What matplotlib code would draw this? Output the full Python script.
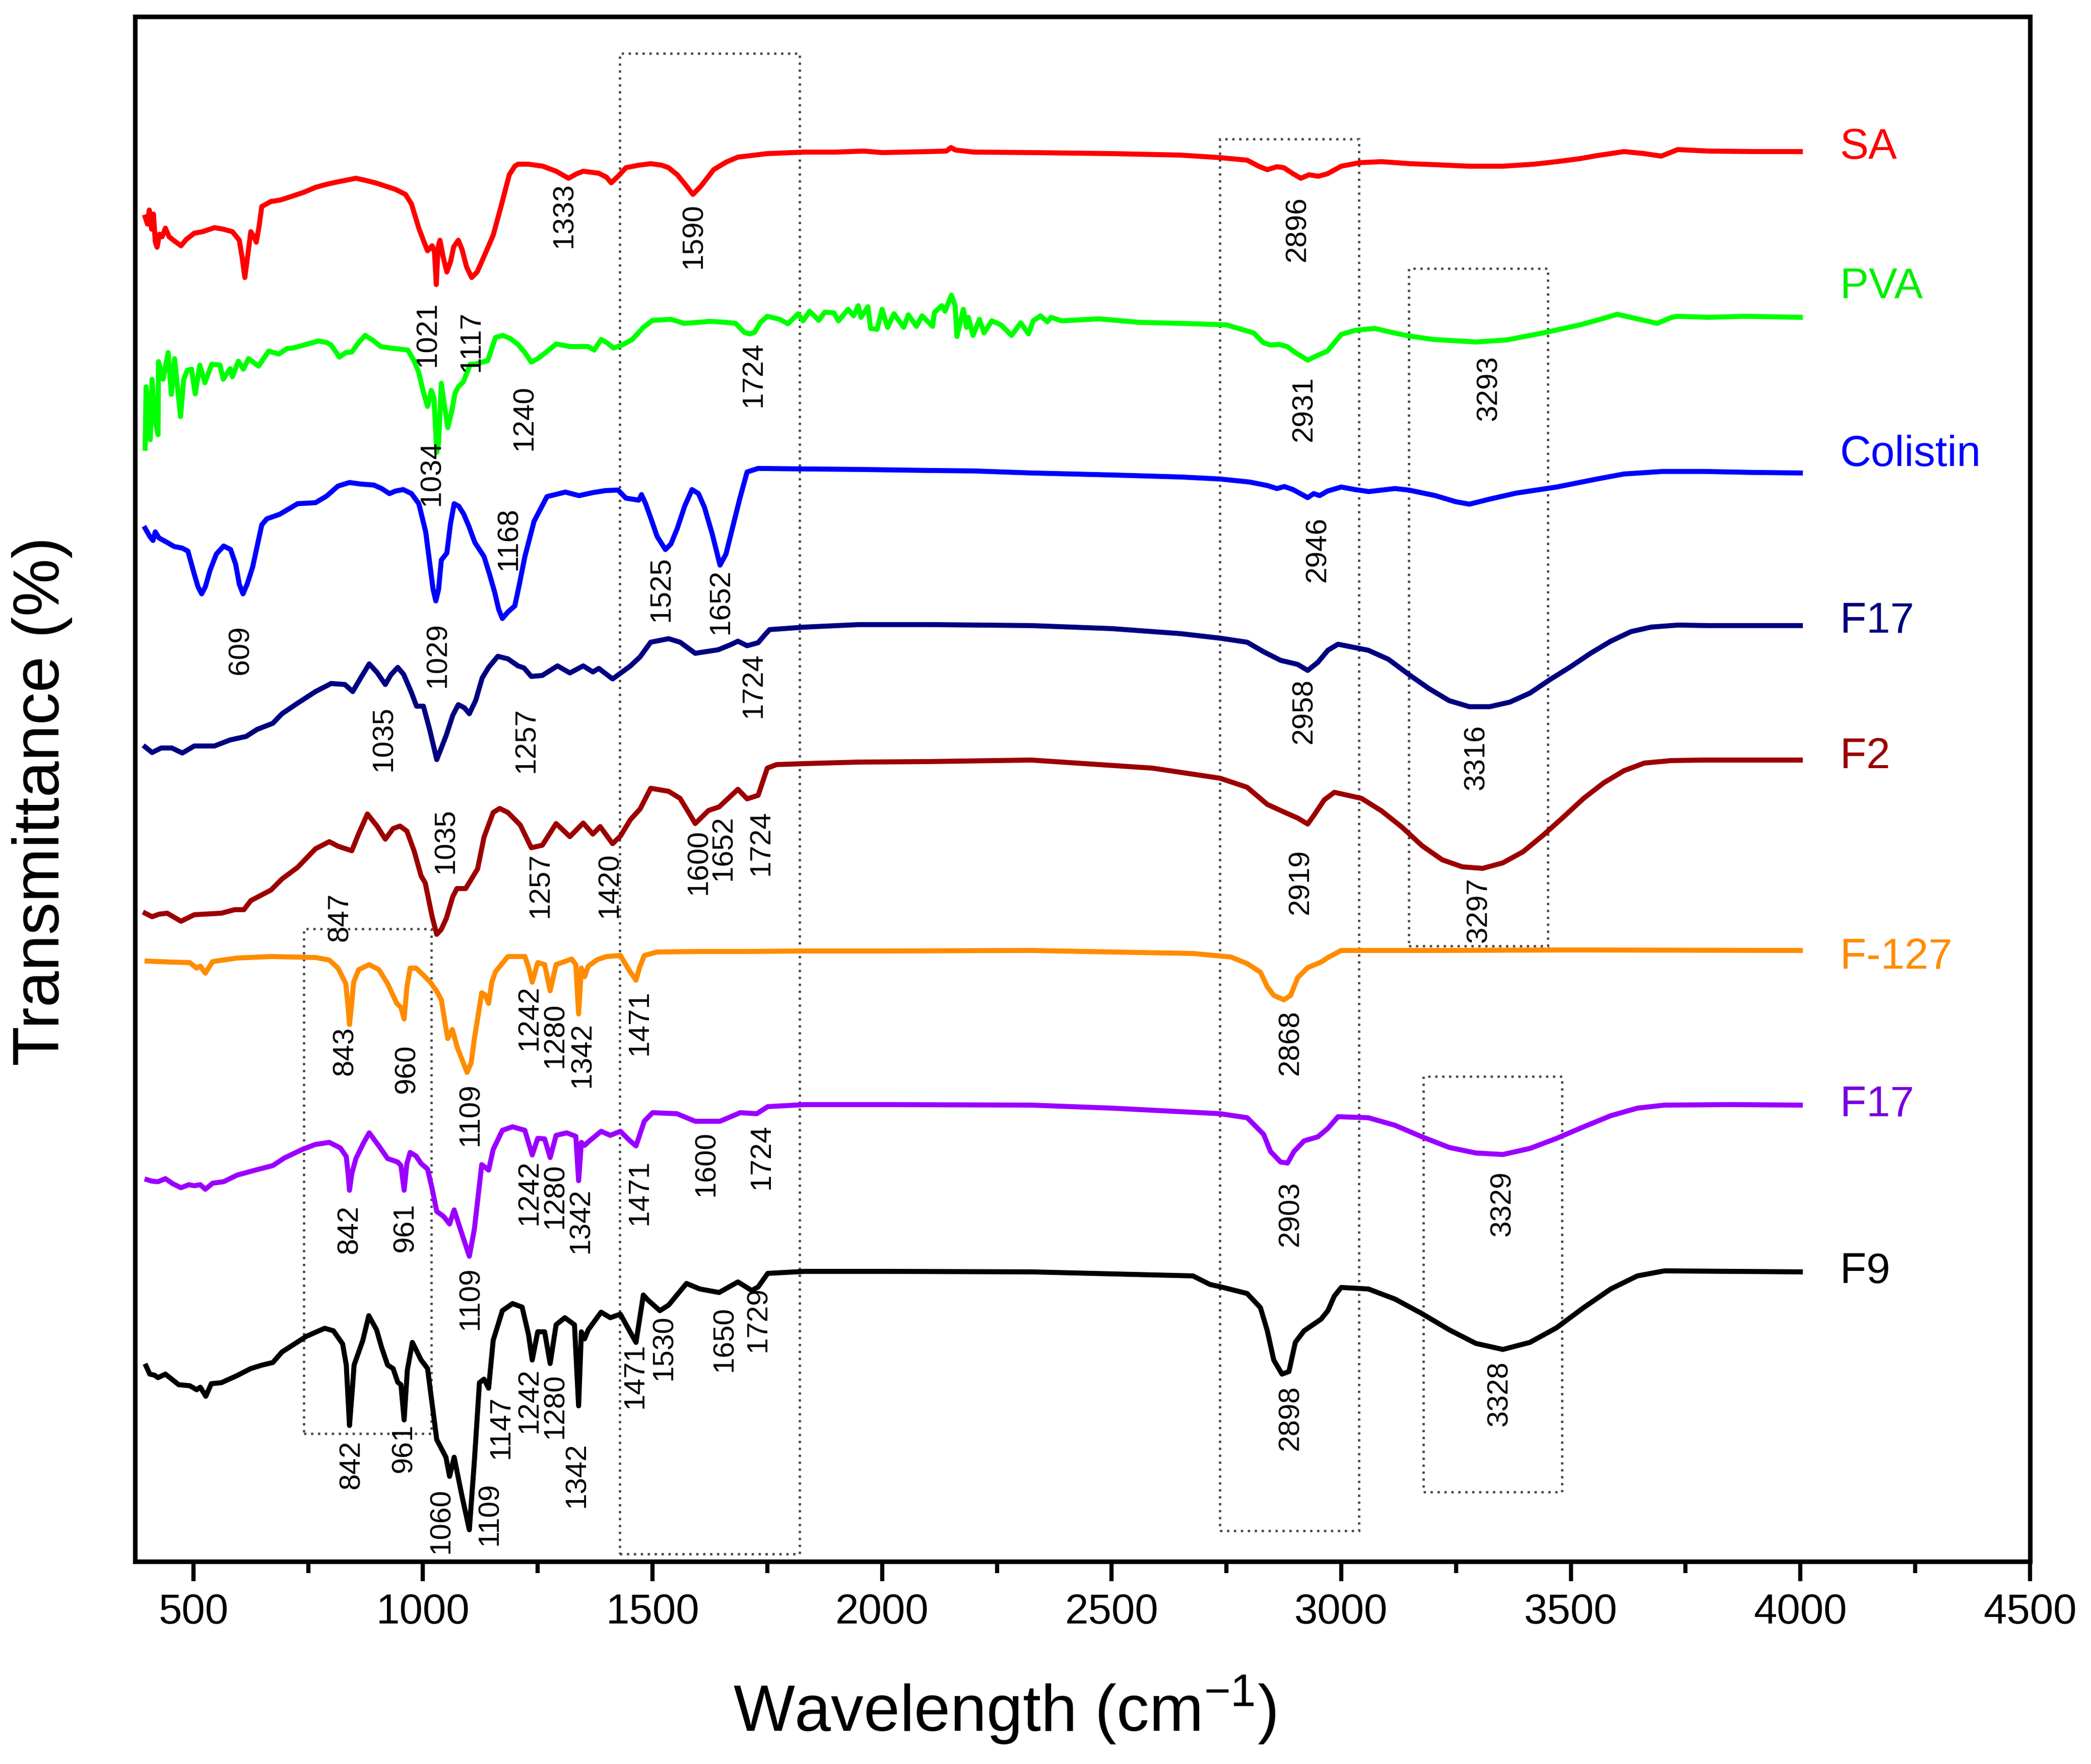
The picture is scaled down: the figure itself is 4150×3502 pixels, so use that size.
import matplotlib
matplotlib.use("Agg")
import matplotlib.pyplot as plt
from matplotlib.ticker import MultipleLocator
from matplotlib.patches import Rectangle

plt.rcParams['font.family'] = ['Liberation Sans', 'DejaVu Sans']
plt.rcParams['mathtext.fontset'] = 'custom'
plt.rcParams['mathtext.rm'] = 'Liberation Sans'
plt.rcParams['mathtext.it'] = 'Liberation Sans:italic'
plt.rcParams['mathtext.default'] = 'regular'

# ---------------- data (wavenumber, stacked transmittance, arbitrary units) ----------------
sa_wn = [395, 400, 404, 409, 413, 417, 421, 426, 432, 439, 447, 458, 473, 485, 502, 520, 546, 565, 585, 600,
         606, 612, 618, 625, 632, 637, 643, 649, 669, 690, 717, 740, 766, 790, 815, 854, 874, 900, 913, 940,
         962, 975, 991, 1000, 1010, 1016, 1020, 1025, 1029, 1033, 1037, 1044, 1052, 1060, 1067, 1077, 1085,
         1095, 1106, 1118, 1135, 1153, 1170, 1188, 1200, 1207, 1230, 1261, 1290, 1317, 1335, 1349, 1383,
         1400, 1410, 1425, 1442, 1470, 1496, 1520, 1535, 1554, 1570, 1588, 1605, 1633, 1660, 1686, 1750,
         1832, 1900, 1960, 2000, 2050, 2100, 2140, 2150, 2160, 2200, 2325, 2500, 2650, 2736, 2795, 2820,
         2839, 2860, 2875, 2895, 2912, 2930, 2950, 2970, 3000, 3040, 3088, 3150, 3205, 3278, 3352, 3420,
         3469, 3520, 3557, 3616, 3660, 3697, 3733, 3800, 3900, 4000]
sa_t = [2669, 2655, 2683, 2645, 2675, 2620, 2609, 2635, 2630, 2647, 2630, 2622, 2612, 2625, 2637, 2640, 2648,
        2645, 2640, 2623, 2590, 2549, 2590, 2640, 2630, 2619, 2650, 2690, 2700, 2703, 2711, 2718, 2728, 2734,
        2739, 2746, 2742, 2736, 2732, 2724, 2714, 2695, 2647, 2625, 2602, 2608, 2612, 2600, 2535, 2610, 2623,
        2590, 2560, 2580, 2610, 2623, 2605, 2570, 2549, 2560, 2595, 2633, 2690, 2753, 2770, 2774, 2774, 2770,
        2760, 2746, 2755, 2760, 2756, 2748, 2737, 2750, 2767, 2772, 2775, 2772, 2767, 2753, 2735, 2714, 2730,
        2763, 2778, 2788, 2795, 2798, 2798, 2800, 2797, 2798, 2799, 2800, 2807, 2802, 2798, 2797, 2795, 2792,
        2787, 2782, 2770, 2763, 2769, 2767, 2755, 2746, 2753, 2750, 2755, 2770, 2777, 2779, 2775, 2773, 2770,
        2770, 2774, 2779, 2785, 2791, 2799, 2795, 2790, 2803, 2800, 2799, 2799]

pva_wn = [395, 397, 406, 410, 415, 423, 424, 434, 445, 452, 459, 472, 479, 487, 496, 504, 514, 525, 540, 558,
          565, 580, 585, 598, 609, 620, 642, 664, 686, 704, 717, 745, 772, 790, 800, 818, 832, 845, 860,
          874, 890, 908, 929, 967, 980, 991, 1000, 1010, 1015, 1018, 1024, 1030, 1034, 1040, 1046, 1054, 1062,
          1070, 1077, 1088, 1103, 1114, 1141, 1158, 1173, 1190, 1207, 1222, 1236, 1250, 1270, 1290, 1320,
          1359, 1373, 1388, 1400, 1415, 1436, 1456, 1480, 1500, 1540, 1569, 1600, 1624, 1660, 1681, 1700,
          1712, 1722, 1735, 1750, 1777, 1795, 1817, 1828, 1842, 1862, 1875, 1895, 1905, 1926, 1938, 1948,
          1954, 1969, 1975, 1989, 2000, 2012, 2026, 2047, 2057, 2075, 2087, 2110, 2114, 2130, 2137, 2151,
          2159, 2163, 2177, 2184, 2188, 2198, 2212, 2222, 2239, 2259, 2282, 2302, 2319, 2329, 2345, 2360,
          2368, 2391, 2472, 2560, 2649, 2750, 2809,
          2830, 2845, 2865, 2882, 2900, 2927, 2950, 2970, 3000, 3030, 3073, 3110, 3147, 3200, 3293, 3360,
          3440, 3520, 3560, 3601, 3640, 3688, 3720, 3732, 3800, 3880, 4000]
pva_t = [2210, 2332, 2227, 2347, 2273, 2237, 2382, 2347, 2400, 2317, 2388, 2273, 2347, 2365, 2367, 2318, 2375,
         2340, 2377, 2375, 2347, 2368, 2352, 2383, 2367, 2388, 2373, 2403, 2397, 2408, 2409, 2416, 2423,
         2420, 2415, 2391, 2400, 2401, 2420, 2434, 2425, 2412, 2409, 2405, 2385, 2360, 2325, 2293, 2310, 2325,
         2310, 2202, 2220, 2339, 2300, 2251, 2280, 2320, 2332, 2342, 2377, 2377, 2384, 2430, 2434, 2428, 2416,
         2400, 2381, 2388, 2402, 2417, 2412, 2412, 2405, 2426, 2420, 2409, 2416, 2426, 2450, 2464, 2466, 2458,
         2460, 2462, 2460, 2458, 2440, 2437, 2440, 2460, 2472, 2466, 2457, 2477, 2463, 2482, 2464, 2480, 2479,
         2463, 2486, 2473, 2493, 2470, 2491, 2448, 2446, 2486, 2450, 2477, 2450, 2475, 2452, 2473, 2452, 2480,
         2493, 2482, 2514, 2493, 2432, 2486, 2450, 2470, 2434, 2466, 2439, 2463, 2455, 2434, 2459, 2437, 2463,
         2473, 2461, 2470, 2463, 2467, 2460, 2458, 2455, 2439, 2420, 2415, 2416, 2412, 2400, 2385, 2395, 2403,
         2436, 2444, 2448, 2440, 2433, 2426, 2421, 2425, 2439, 2455, 2465, 2476, 2468, 2458, 2470, 2472, 2470,
         2472, 2470]

col_wn = [395, 405, 412, 417, 425, 443, 458, 475, 488, 502, 510, 518, 526, 536, 550, 566, 581, 592, 600, 608,
          617, 629, 649, 660, 688, 727, 766, 790, 815, 840, 864, 893, 910, 927, 940, 957, 975, 991, 1006, 1015,
          1022, 1028, 1034, 1040, 1052, 1060, 1068, 1078, 1089, 1100, 1113, 1133, 1145, 1156, 1165, 1173, 1185,
          1200, 1210, 1222, 1242, 1270, 1310, 1340, 1370, 1398, 1425, 1442, 1470, 1476, 1485, 1496, 1510, 1528,
          1540, 1554, 1570, 1586, 1600, 1613, 1630, 1647, 1660, 1672, 1690, 1706, 1730, 1832, 1950, 2100, 2200,
          2325, 2500, 2650, 2736, 2800, 2839, 2860, 2876, 2895, 2927, 2940, 2953, 2970, 3000, 3030, 3060, 3117,
          3147, 3205, 3249, 3279, 3323, 3381, 3469, 3557, 3616, 3700, 3791, 3900, 4000]
col_t = [2051, 2035, 2027, 2044, 2032, 2023, 2015, 2012, 2006, 1960, 1935, 1921, 1935, 1967, 2000, 2016, 2009,
         1980, 1940, 1921, 1940, 1974, 2058, 2070, 2079, 2100, 2102, 2115, 2135, 2142, 2139, 2137, 2130, 2120,
         2125, 2128, 2120, 2100, 2044, 1980, 1930, 1907, 1930, 1988, 2002, 2060, 2100, 2095, 2079, 2055, 2023,
         1995, 1960, 1925, 1890, 1872, 1885, 1897, 1940, 1995, 2065, 2114, 2123, 2116, 2122, 2126, 2127, 2111,
         2107, 2118, 2100, 2072, 2035, 2009, 2020, 2051, 2095, 2128, 2120, 2093, 2040, 1978, 2000, 2044, 2110,
         2163, 2170, 2169, 2168, 2166, 2165, 2161, 2157, 2153, 2149, 2143, 2136, 2130, 2134, 2128, 2112, 2120,
         2116, 2125, 2133, 2128, 2124, 2130, 2127, 2116, 2104, 2099, 2109, 2121, 2133, 2149, 2159, 2164, 2164,
         2162, 2161]

f17a_wn = [395, 410, 430, 453, 476, 502, 546, 580, 615, 639, 673, 693, 727, 766, 800, 830, 847, 865, 883, 900,
           918, 930, 945, 958, 975, 986, 1001, 1015, 1030, 1040, 1051, 1065, 1077, 1090, 1101, 1115, 1129, 1143,
           1163, 1185, 1207, 1220, 1236, 1260, 1293, 1320, 1349, 1370, 1383, 1413, 1452, 1473, 1496, 1535, 1560,
           1593, 1643, 1670, 1686, 1706, 1730, 1745, 1755, 1832, 1950, 2100, 2325, 2500, 2650, 2736, 2795, 2831,
           2868, 2905, 2927, 2949, 2971, 2993, 3059, 3103, 3147, 3191, 3235, 3279, 3323, 3367, 3411, 3455, 3499,
           3543, 3587, 3631, 3675, 3733, 3800, 3900, 4000]
f17a_t = [1617, 1606, 1615, 1615, 1605, 1619, 1619, 1631, 1638, 1652, 1664, 1683, 1704, 1727, 1743, 1741, 1727,
          1755, 1782, 1765, 1741, 1760, 1775, 1761, 1725, 1698, 1698, 1650, 1592, 1615, 1641, 1680, 1701, 1695,
          1683, 1710, 1754, 1775, 1797, 1792, 1778, 1774, 1757, 1759, 1778, 1764, 1778, 1766, 1773, 1752, 1778,
          1796, 1825, 1832, 1825, 1803, 1810, 1820, 1827, 1818, 1824, 1840, 1850, 1855, 1860, 1860, 1858, 1852,
          1842, 1833, 1825, 1806, 1789, 1781, 1769, 1785, 1809, 1821, 1809, 1791, 1761, 1733, 1709, 1697, 1697,
          1706, 1724, 1751, 1776, 1803, 1827, 1846, 1855, 1859, 1858, 1858, 1858]

f2_wn = [395, 410, 425, 443, 473, 502, 561, 590, 610, 625, 669, 693, 727, 766, 796, 815, 845, 860, 879, 900,
         918, 935, 950, 965, 981, 996, 1005, 1020, 1030, 1040, 1051, 1065, 1074, 1093, 1105, 1119, 1133, 1153,
         1167, 1185, 1212, 1236, 1260, 1290, 1320, 1349, 1370, 1386, 1413, 1430, 1452, 1473, 1496, 1535, 1560,
         1580, 1593, 1622, 1645, 1686, 1706, 1730, 1750, 1770, 1832, 1950, 2100, 2325, 2589, 2736, 2795, 2839,
         2875, 2905, 2927, 2941, 2963, 2985, 3044, 3088, 3132, 3176, 3220, 3264, 3308, 3352, 3396, 3440, 3484,
         3528, 3572, 3616, 3660, 3719, 3791, 3900, 4000]
f2_t = [1287, 1280, 1285, 1287, 1271, 1284, 1287, 1294, 1294, 1312, 1333, 1355, 1378, 1415, 1429, 1420, 1411,
        1445, 1484, 1460, 1434, 1455, 1460, 1450, 1410, 1361, 1347, 1280, 1245, 1255, 1277, 1320, 1336, 1336,
        1354, 1375, 1438, 1487, 1495, 1487, 1462, 1417, 1422, 1465, 1439, 1466, 1444, 1459, 1425, 1440, 1473,
        1494, 1535, 1529, 1515, 1485, 1465, 1491, 1498, 1533, 1514, 1521, 1575, 1582, 1584, 1587, 1588, 1591,
        1575, 1555, 1537, 1503, 1488, 1476, 1464, 1482, 1512, 1527, 1515, 1490, 1458, 1421, 1393, 1379, 1376,
        1387, 1409, 1442, 1478, 1515, 1546, 1570, 1585, 1590, 1591, 1591, 1591]

f127_wn = [399, 450, 492, 507, 515, 526, 534, 542, 595, 669, 766, 796, 815, 832, 837, 840, 844, 849, 860, 883,
           904, 923, 943, 952, 959, 965, 972, 985, 1000, 1016, 1030, 1040, 1048, 1054, 1064, 1075, 1096, 1105,
           1112, 1128, 1135, 1143, 1150, 1158, 1185, 1222, 1230, 1238, 1250, 1265, 1277, 1290, 1324, 1333, 1339,
           1345, 1352, 1360, 1380, 1400, 1430, 1451, 1464, 1472, 1482, 1510, 1600, 1700, 1832, 2000, 2325, 2677,
           2736, 2760, 2795, 2824, 2839, 2853, 2875, 2890, 2905, 2927, 2956, 2971, 3000, 3200, 3500, 4000]
f127_t = [1192, 1190, 1189, 1178, 1182, 1168, 1180, 1191, 1198, 1201, 1199, 1194, 1178, 1147, 1100, 1066, 1100,
          1150, 1175, 1185, 1175, 1147, 1108, 1100, 1077, 1140, 1178, 1178, 1165, 1150, 1132, 1115, 1070, 1038,
          1056, 1020, 971, 990, 1038, 1129, 1125, 1108, 1150, 1171, 1201, 1201, 1180, 1150, 1189, 1185, 1133,
          1185, 1196, 1185, 1087, 1178, 1161, 1182, 1195, 1201, 1203, 1171, 1154, 1180, 1203, 1210, 1211, 1211,
          1212, 1212, 1213, 1207, 1202, 1200, 1187, 1170, 1141, 1124, 1115, 1124, 1159, 1179, 1190, 1199, 1213,
          1213, 1214, 1213]

f17b_wn = [399, 410, 423, 439, 455, 473, 490, 502, 515, 526, 542, 566, 595, 635, 673, 698, 737, 766, 796, 820,
           833, 837, 840, 845, 854, 870, 883, 904, 923, 945, 952, 959, 965, 972, 985, 996, 1010, 1020, 1030, 1045,
           1052, 1058, 1068, 1085, 1101, 1112, 1128, 1143, 1153, 1173, 1195, 1222, 1238, 1250, 1265, 1277, 1290,
           1313, 1333, 1339, 1345, 1352, 1360, 1388, 1408, 1430, 1451, 1464, 1482, 1500, 1553, 1593, 1647, 1691,
           1727, 1751, 1832, 2000, 2325, 2500, 2736, 2795, 2831, 2846, 2868, 2883, 2897, 2919, 2949, 2971, 2993,
           3059, 3117, 3176, 3235, 3293, 3352, 3411, 3469, 3528, 3587, 3645, 3704, 3850, 4000]
f17b_t = [758, 755, 754, 760, 750, 742, 748, 746, 748, 739, 751, 754, 767, 777, 786, 801, 818, 828, 832, 821, 804,
          770, 737, 770, 800, 830, 851, 825, 800, 793, 786, 737, 790, 812, 805, 790, 779, 740, 695, 685, 677, 670,
          698, 650, 606, 660, 788, 777, 818, 856, 863, 856, 807, 840, 839, 802, 846, 851, 844, 756, 832, 826, 833,
          854, 846, 854, 835, 825, 874, 891, 889, 874, 874, 891, 889, 903, 907, 907, 906, 900, 889, 881, 848, 814,
          793, 791, 814, 835, 843, 860, 883, 881, 866, 843, 822, 811, 808, 820, 840, 863, 885, 900, 906, 907, 906]

f9_wn = [397, 405, 415, 423, 439, 468, 492, 507, 515, 527, 539, 561, 595, 625, 650, 673, 693, 717, 746, 786, 805,
         825, 833, 840, 846, 850, 869, 882, 899, 910, 923, 935, 945, 952, 959, 966, 977, 996, 1010, 1030, 1050,
         1058, 1068, 1085, 1101, 1112, 1123, 1133, 1143, 1153, 1173, 1195, 1216, 1230, 1238, 1250, 1265, 1277,
         1290, 1309, 1330, 1339, 1345, 1352, 1360, 1388, 1408, 1430, 1451, 1464, 1480, 1490, 1516, 1535, 1574,
         1603, 1645, 1686, 1716, 1730, 1751, 1832, 2000, 2325, 2677, 2714, 2743, 2795, 2824, 2839, 2853, 2871,
         2886, 2900, 2919, 2956, 2971, 2985, 3000, 3059, 3117, 3176, 3235, 3293, 3352, 3411, 3469, 3528, 3587,
         3645, 3704, 3850, 4000]
f9_t = [388, 372, 370, 365, 372, 351, 349, 341, 346, 328, 353, 355, 369, 383, 390, 395, 416, 430, 447, 463, 458,
        432, 390, 270, 340, 390, 439, 488, 460, 425, 390, 383, 356, 351, 281, 380, 435, 400, 383, 242, 207, 169,
        207, 130, 63, 200, 355, 362, 344, 439, 498, 512, 505, 450, 400, 456, 456, 393, 470, 484, 470, 309, 456,
        442, 460, 495, 484, 491, 456, 435, 529, 519, 498, 509, 552, 541, 534, 555, 538, 545, 572, 576, 576, 575,
        567, 550, 544, 532, 504, 458, 400, 372, 377, 435, 458, 481, 498, 527, 544, 541, 521, 492, 460, 433, 421,
        435, 464, 504, 541, 567, 577, 576, 575]

series_names = ['SA', 'PVA', 'Colistin', 'F17', 'F2', 'F-127', 'F17', 'F9']
series_colors = ['#ff0000', '#00ff00', '#0000ff', '#000080', '#9c0000', '#ff8c00', '#9b00ff', '#000000']
series_text_colors = ['#ff0000', '#00ee00', '#0000ff', '#000080', '#9c0000', '#ff8c00', '#7a00dd', '#000000']
series_wn = [sa_wn, pva_wn, col_wn, f17a_wn, f2_wn, f127_wn, f17b_wn, f9_wn]
series_t = [sa_t, pva_t, col_t, f17a_t, f2_t, f127_t, f17b_t, f9_t]
name_wn = 4086
name_t = [2807, 2530, 2197, 1866, 1597, 1199, 906, 575]

# peak annotations: text, wavenumber position, height position
peak_text = ['1333', '1590', '1021', '1117', '2896',
             '1034', '1240', '1724', '2931', '3293',
             '609', '1029', '1168', '1525', '1652', '2946',
             '1035', '1257', '1724', '2958', '3316',
             '847', '1035', '1257', '1420', '1600', '1652', '1724', '2919', '3297',
             '843', '960', '1109', '1242', '1280', '1342', '1471', '2868',
             '842', '961', '1109', '1242', '1280', '1342', '1471', '1600', '1724', '2903', '3329',
             '842', '961', '1060', '1109', '1147', '1242', '1280', '1342', '1471', '1530', '1650', '1729',
             '2898', '3328']
peak_wn = [1308, 1590, 1011, 1105, 2905,
           1019, 1221, 1720, 2919, 3322,
           603, 1032, 1187, 1520, 1649, 2949,
           915, 1226, 1720, 2919, 3294,
           820, 1050, 1256, 1407, 1601, 1655, 1736, 2912, 3300,
           830, 965, 1104, 1232, 1288, 1347, 1472, 2890,
           840, 962, 1104, 1232, 1288, 1344, 1472, 1617, 1738, 2890, 3352,
           845, 959, 1040, 1146, 1170, 1232, 1288, 1335, 1462, 1525, 1657, 1730,
           2890, 3345]
peak_t = [2673, 2632, 2437, 2422, 2645,
          2161, 2271, 2357, 2288, 2330,
          1810, 1800, 2031, 1931, 1906, 2009,
          1634, 1631, 1740, 1688, 1597,
          1280, 1431, 1343, 1343, 1389, 1417, 1427, 1349, 1294,
          1014, 978, 888, 1080, 1045, 1006, 1070, 1030,
          660, 663, 523, 733, 726, 677, 733, 790, 804, 690, 711,
          193, 225, 81, 95, 267, 320, 309, 172, 369, 425, 442, 481,
          285, 334]

# dotted highlight boxes: (wn_start, wn_end, t_low, t_high)
box_wn0 = [1429, 2736, 3147, 3179, 740]
box_wn1 = [1820, 3039, 3450, 3481, 1018]
box_t0 = [15, 61, 1222, 138, 254]
box_t1 = [2994, 2824, 2567, 963, 1256]

x_ticks = [500, 1000, 1500, 2000, 2500, 3000, 3500, 4000, 4500]

# ---------------- figure ----------------
fig = plt.figure(figsize=(4150 / 300, 3502 / 300), dpi=300)
ax = fig.add_axes([0.0646, 0.1148, 0.9062, 0.8758])

for wn, t, c in zip(series_wn, series_t, series_colors):
    ax.plot(wn, t, color=c, lw=2.4, solid_joinstyle='round', zorder=3)

for name, ty, c in zip(series_names, name_t, series_text_colors):
    ax.text(name_wn, ty, name, color=c, fontsize=20.5, ha='left', va='center')

for s, px, py in zip(peak_text, peak_wn, peak_t):
    ax.text(px, py, s, rotation=90, fontsize=14, ha='center', va='center', color='black', zorder=4)

for a0, a1, b0, b1 in zip(box_wn0, box_wn1, box_t0, box_t1):
    ax.add_patch(Rectangle((a0, b0), a1 - a0, b1 - b0, fill=False, edgecolor='#444444',
                           lw=1.1, linestyle=(0, (1, 2.0)), zorder=2))

ax.set_xlim(373, 4500)
ax.set_ylim(0, 3067)
ax.set_xticks(x_ticks)
ax.xaxis.set_minor_locator(MultipleLocator(250))
ax.tick_params(axis='x', which='major', direction='out', length=9.4, width=2.0, labelsize=20, pad=5.5,
               top=False)
ax.tick_params(axis='x', which='minor', direction='out', length=5.5, width=2.0, top=False)
ax.tick_params(axis='y', which='both', left=False, right=False, labelleft=False)
for sp in ax.spines.values():
    sp.set_linewidth(2.2)

ax.set_xlabel(r'Wavelength (cm$^{-1}$)', fontsize=31, va='center')
ax.xaxis.set_label_coords(0.459, -0.0962)
ax.set_ylabel('Transmittance (%)', fontsize=31, va='center')
ax.yaxis.set_label_coords(-0.049, 0.492)

fig.savefig('out.png', dpi=300)
